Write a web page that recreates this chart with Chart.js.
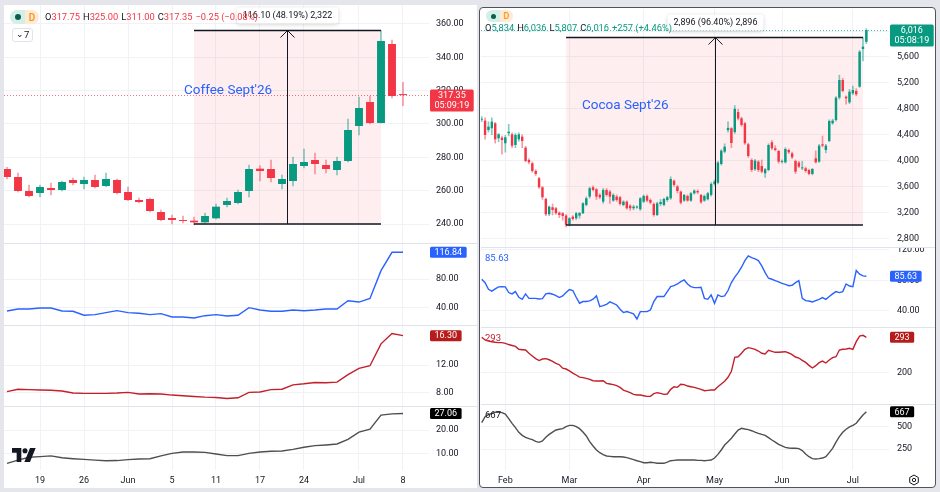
<!DOCTYPE html>
<html>
<head>
<meta charset="utf-8">
<script src="https://cdn.jsdelivr.net/npm/chart.js@4.4.1/dist/chart.umd.min.js"></script>
<style>
  body { margin: 0; width: 940px; height: 492px; background: #e4e6eb; position: relative; overflow: hidden; font-family: Roboto, "Noto Sans", sans-serif; color: #131722; }
  .panel { position: absolute; background: #fff; }
  canvas { position: absolute; }
  .sep { position: absolute; height: 1px; background: #e0e3eb; z-index: 3; }
  .ov { position: absolute; z-index: 5; white-space: nowrap; }
  .pill { display: flex; border-radius: 8px; overflow: hidden; }
  .pill .a { background: #d3efe8; display: flex; align-items: center; justify-content: center; }
  .pill .a i { display: block; width: 6px; height: 6px; border-radius: 50%; background: #0b5e4f; }
  .pill .b { background: #fdecd3; color: #f7931a; font-weight: 500; display: flex; align-items: center; justify-content: center; }
  .ohlc { font-size: 9.3px; line-height: 12px; }
  .ohlc span { margin-right: 3px; }
  .draw { font-size: 13.5px; color: #2962ff; }
</style>
</head>
<body>
<div class="panel" style="left:4px;top:5px;width:473px;height:483px"></div>
<div class="panel" style="left:479px;top:7px;width:455px;height:479px;border:1.5px solid #50535e;border-radius:4px"></div>
<div id="stage"></div>

<script>
// ---- Coffee Sept'26 (daily) ----
const coffeeStart = '2026-05-14';
const coffeeOpen  = [273.0, 268.2, 259.8, 258.6, 261.6, 260.4, 266.4, 264.0, 266.4, 262.8, 266.4, 259.2, 254.4, 255.0, 247.2, 243.6, 242.4, 242.0, 241.0, 243.4, 251.4, 252.6, 259.8, 273.2, 273.0, 264.0, 265.8, 274.8, 278.4, 275.4, 272.4, 277.8, 298.8, 313.2, 300.6, 348.0, 317.75];
const coffeeHigh  = [274.0, 270.6, 263.4, 263.4, 264.6, 265.8, 267.6, 268.2, 269.4, 270.6, 267.0, 262.2, 255.6, 255.6, 248.4, 245.4, 244.8, 244.2, 246.6, 252.0, 255.6, 260.4, 275.4, 275.0, 278.4, 269.4, 280.2, 285.0, 282.6, 278.4, 280.2, 303.0, 316.2, 316.8, 356.1, 350.4, 325.0];
const coffeeLow   = [267.0, 259.2, 256.2, 256.2, 257.4, 259.8, 263.4, 261.0, 261.6, 262.2, 258.0, 254.0, 252.6, 247.2, 242.0, 240.0, 240.6, 239.4, 240.6, 243.0, 250.2, 252.0, 256.2, 265.8, 265.2, 261.0, 262.8, 273.6, 270.0, 270.6, 269.4, 277.2, 293.4, 300.0, 300.6, 315.6, 311.0];
const coffeeClose = [268.2, 259.8, 256.8, 262.2, 260.4, 265.2, 264.6, 266.4, 262.2, 267.0, 258.6, 254.4, 253.2, 247.8, 242.4, 242.4, 241.8, 241.0, 244.8, 250.4, 253.8, 259.2, 273.0, 271.8, 267.6, 267.0, 276.0, 277.2, 276.0, 273.0, 277.8, 296.4, 309.6, 300.6, 349.8, 316.8, 317.35];
const coffeeBlue  = [35.9, 38.6, 38.6, 40.0, 40.0, 35.9, 35.5, 30.0, 30.8, 33.6, 36.3, 33.6, 32.7, 30.8, 32.2, 27.6, 27.6, 26.2, 29.4, 30.8, 29.0, 30.0, 40.5, 37.2, 35.5, 35.5, 37.2, 36.3, 37.2, 38.6, 38.6, 50.0, 48.2, 53.2, 91.5, 116.84, 116.84];
const coffeeRed   = [8.1, 8.45, 8.4, 8.35, 8.3, 8.2, 7.9, 7.85, 7.85, 7.85, 7.9, 8.0, 7.75, 7.8, 7.75, 7.6, 7.5, 7.4, 7.3, 7.25, 7.1, 7.2, 8.0, 8.05, 8.4, 8.45, 9.1, 9.25, 9.45, 9.4, 9.5, 10.6, 11.5, 11.9, 15.1, 16.6, 16.3];
const coffeeGrey  = [5.7, 7.1, 8.3, 8.6, 8.9, 8.1, 7.7, 7.4, 7.1, 6.8, 6.9, 7.3, 7.6, 7.7, 8.9, 10.0, 10.6, 10.6, 10.4, 9.7, 9.0, 9.0, 10.0, 10.6, 10.9, 11.0, 11.7, 12.6, 13.3, 13.6, 14.0, 16.0, 19.1, 20.4, 26.4, 26.9, 27.06];
const coffeePriceTicks = [240, 260, 280, 300, 320, 340, 360];
const coffeeBlueTicks = [40, 80];
const coffeeRedTicks = [8, 12];
const coffeeGreyTicks = [10, 20];
const coffeeDateTicks = ['2026-05-19', '2026-05-26', '2026-06-01', '2026-06-05', '2026-06-11', '2026-06-17', '2026-06-24', '2026-07-01', '2026-07-08'];
const coffeeDateLabels = ['19', '26', 'Jun', '5', '11', '17', '24', 'Jul', '8'];
const coffeeRangeDates = ['2026-06-09', '2026-07-06'];
const coffeeRangePrices = [240.00, 356.10];

// ---- Cocoa Sept'26 (daily) ----
const cocoaStart = '2026-01-22';
const cocoaOpen  = [4630, 4617, 4473, 4499, 4576, 4345, 4354, 4268, 4422, 4406, 4241, 4329, 4370, 4200, 4010, 3959, 3840, 3727, 3588, 3408, 3171, 3279, 3264, 3196, 3187, 3150, 3017, 3134, 3109, 3150, 3187, 3315, 3444, 3588, 3557, 3470, 3366, 3547, 3521, 3382, 3444, 3434, 3315, 3366, 3304, 3264, 3275, 3249, 3366, 3454, 3392, 3330, 3160, 3330, 3315, 3392, 3418, 3690, 3600, 3521, 3382, 3454, 3382, 3495, 3530, 3470, 3382, 3403, 3470, 3640, 3659, 3948, 4138, 4470, 4500, 4440, 4750, 4653, 4576, 4252, 4010, 3866, 3984, 3917, 3804, 3855, 4283, 4190, 4148, 3980, 3974, 4164, 4112, 3994, 3969, 3880, 3881, 3855, 3794, 4036, 3984, 4252, 4164, 4303, 4576, 4627, 4972, 5245, 4987, 4900, 5039, 5075, 5142, 5724, 5834];
const cocoaHigh  = [4680, 4660, 4600, 4660, 4590, 4420, 4380, 4390, 4560, 4430, 4420, 4430, 4400, 4220, 4030, 3980, 3860, 3740, 3600, 3420, 3300, 3330, 3280, 3210, 3200, 3170, 3120, 3150, 3200, 3200, 3350, 3440, 3590, 3610, 3570, 3490, 3570, 3570, 3540, 3490, 3470, 3450, 3380, 3380, 3320, 3310, 3300, 3430, 3470, 3470, 3410, 3350, 3360, 3400, 3420, 3450, 3750, 3700, 3620, 3530, 3480, 3470, 3510, 3550, 3550, 3480, 3470, 3510, 3660, 3700, 3990, 4170, 4260, 4600, 4510, 4850, 4790, 4670, 4590, 4270, 4030, 4020, 4000, 4010, 3880, 4260, 4310, 4230, 4160, 4010, 4200, 4180, 4130, 4010, 3990, 3990, 3900, 3870, 3880, 4150, 4250, 4380, 4250, 4630, 4640, 4990, 5320, 5270, 5000, 5100, 5150, 5110, 5700, 5900, 6036];
const cocoaLow   = [4600, 4330, 4440, 4400, 4270, 4290, 4100, 4130, 4380, 4200, 4200, 4300, 4200, 3980, 3950, 3820, 3770, 3570, 3400, 3150, 3150, 3160, 3170, 3120, 3080, 2975, 2990, 3080, 3090, 3110, 3180, 3300, 3420, 3530, 3400, 3410, 3340, 3450, 3340, 3370, 3370, 3310, 3300, 3250, 3230, 3240, 3260, 3230, 3350, 3360, 3330, 3140, 3150, 3300, 3300, 3370, 3400, 3600, 3500, 3330, 3370, 3370, 3370, 3480, 3490, 3340, 3370, 3390, 3450, 3620, 3640, 3930, 4120, 4440, 4200, 4420, 4630, 4530, 4250, 4050, 3830, 3850, 3830, 3810, 3740, 3840, 4170, 4150, 3960, 3960, 3960, 4110, 4030, 3800, 3890, 3860, 3820, 3780, 3780, 3960, 3970, 4210, 4120, 4290, 4560, 4610, 4950, 5060, 4870, 4880, 5020, 5000, 5130, 5540, 5807];
const cocoaClose = [4645, 4396, 4524, 4601, 4329, 4406, 4318, 4360, 4447, 4230, 4396, 4406, 4303, 3994, 3974, 3840, 3794, 3588, 3434, 3171, 3289, 3238, 3187, 3160, 3145, 3006, 3109, 3098, 3187, 3190, 3341, 3418, 3573, 3547, 3444, 3434, 3547, 3470, 3444, 3470, 3392, 3330, 3366, 3264, 3264, 3289, 3285, 3418, 3454, 3382, 3351, 3160, 3341, 3360, 3408, 3434, 3716, 3624, 3530, 3350, 3470, 3382, 3495, 3537, 3510, 3357, 3454, 3495, 3640, 3675, 3969, 4153, 4215, 4505, 4272, 4800, 4650, 4550, 4267, 4071, 3855, 4000, 3855, 3829, 3866, 4241, 4190, 4164, 3984, 3995, 4179, 4128, 4051, 3829, 3907, 3895, 3840, 3794, 3871, 3974, 4231, 4231, 4231, 4612, 4617, 4972, 5245, 5075, 4962, 5064, 5090, 5024, 5682, 5760, 6016];
const cocoaBlue  = [81.5, 77, 68.4, 66, 69, 71.6, 72, 71.6, 64.2, 62.4, 65.4, 58, 55.3, 62.4, 56.6, 56.6, 56.6, 55.7, 56.2, 62.4, 63.3, 62, 60.2, 57.6, 59.8, 64.2, 68.1, 66.8, 58, 50.2, 52.4, 52.4, 53.3, 55.5, 59.8, 45.7, 47, 48.8, 51.9, 50.1, 47.9, 42.3, 37.9, 39.2, 37.9, 36.2, 29.5, 39.2, 39.2, 39.2, 41.3, 52.4, 58.9, 58.9, 58.9, 65.4, 72, 73.2, 75.4, 78.5, 80.7, 75.4, 72, 70.6, 70.6, 71, 56.6, 55.3, 61, 50.1, 61, 58.9, 59.8, 66.8, 77.3, 84.3, 90.4, 97.4, 106.1, 112.2, 110, 108.3, 106.1, 99.1, 90.4, 82.9, 81.6, 79.8, 78.1, 76.3, 75, 73.2, 73.7, 77.2, 79.8, 56.6, 53.6, 53.1, 51.8, 53.6, 55.3, 57.5, 55.3, 58.9, 62.4, 65.4, 64.1, 65.4, 75.4, 72.7, 72, 93, 88.2, 86, 85.63];
const cocoaRed   = [293, 286, 283, 281.5, 280, 279, 279, 277, 274, 271.5, 269, 261.5, 260.5, 259.6, 251, 244, 237, 232, 236, 237, 234, 230, 224.7, 221, 212, 209.7, 205, 199, 194, 188.5, 187, 185.3, 182.7, 179, 178.2, 178.2, 179, 172, 170.3, 168.6, 166, 161.6, 154.5, 151, 147.5, 143, 141.4, 141.4, 139.6, 137.8, 137.8, 144.9, 147.5, 145.7, 143, 144, 156.3, 163.2, 161.6, 169.5, 168.6, 165, 163.2, 161.6, 159, 156.3, 152.7, 153.6, 154.5, 154.5, 163.2, 170.3, 177.4, 187.9, 203.6, 240.5, 242, 251, 261.5, 265.8, 264.1, 261.5, 257, 251, 249.1, 258.7, 256.2, 253.6, 253.6, 254.4, 255.2, 251.8, 247.4, 241.3, 238.6, 232.4, 227.2, 219.3, 212.4, 218.5, 226.3, 230.7, 225.5, 233.4, 239.5, 242, 259.6, 261.5, 262.3, 264.1, 261.5, 281.5, 296.4, 298.2, 293];
const cocoaGrey  = [545, 612, 635, 650, 661, 661, 657, 642, 590, 538, 489, 437, 403, 381, 366, 355, 336, 325, 340, 381, 414, 440, 463, 471, 478, 500, 515, 515, 500, 478, 440, 396, 332, 284, 239, 209, 187, 172, 168, 164, 164, 164, 160, 153, 142, 131, 119, 108, 97, 97, 101, 97, 90, 90, 90, 104, 119, 123, 127, 127, 127, 127, 127, 127, 123, 123, 119, 123, 127, 149, 190, 239, 295, 332, 370, 418, 463, 482, 474, 467, 455, 440, 426, 414, 403, 377, 351, 328, 302, 284, 269, 262, 258, 258, 254, 232, 194, 164, 142, 138, 142, 149, 164, 209, 258, 328, 388, 437, 471, 497, 515, 538, 586, 631, 667];
const cocoaPriceTicks = [2800, 3200, 3600, 4000, 4400, 4800, 5200, 5600, 6000];
const cocoaBlueTicks = [40, 80, 120];
const cocoaRedTicks = [200];
const cocoaGreyTicks = [250, 500];
const cocoaDateTicks = ['2026-02-02', '2026-03-02', '2026-04-01', '2026-05-01', '2026-06-01', '2026-07-01'];
const cocoaDateLabels = ['Feb', 'Mar', 'Apr', 'May', 'Jun', 'Jul'];
const cocoaRangeDates = ['2026-02-27', '2026-07-07'];
const cocoaRangePrices = [3004, 5900];

const holidays = ['2026-02-16', '2026-04-03', '2026-05-25', '2026-06-19', '2026-07-03'];

const UP = '#089981', DOWN = '#f23645';
const UP_WICK = 'rgba(8,153,129,0.5)', DOWN_WICK = 'rgba(242,54,69,0.5)';
const GRID = '#f1f2f5', TEXT = '#131722';

Chart.defaults.font.family = 'Roboto, "Noto Sans", sans-serif';

function tradingDays(start, n) {
  const out = [];
  const d = new Date(start + 'T12:00:00Z');
  while (out.length < n) {
    const s = d.toISOString().slice(0, 10);
    const wd = d.getUTCDay();
    if (wd !== 0 && wd !== 6 && !holidays.includes(s)) out.push(s);
    d.setUTCDate(d.getUTCDate() + 1);
  }
  return out;
}

function roundRect(ctx, x, y, w, h, r) {
  ctx.beginPath();
  ctx.moveTo(x + r, y);
  ctx.arcTo(x + w, y, x + w, y + h, r);
  ctx.arcTo(x + w, y + h, x, y + h, r);
  ctx.arcTo(x, y + h, x, y, r);
  ctx.arcTo(x, y, x + w, y, r);
  ctx.closePath();
}

// drawings: measure range, price line, axis tags, pane legend text
const overlay = {
  id: 'overlay',
  beforeDatasetsDraw(chart, args, o) {
    const { ctx, chartArea: a, scales: { x, y } } = chart;
    ctx.save();
    if (o.range) {
      const x0 = x.getPixelForValue(o.range.from), x1 = x.getPixelForValue(o.range.to);
      const yl = y.getPixelForValue(o.range.low), yh = y.getPixelForValue(o.range.high);
      ctx.fillStyle = 'rgba(242,54,69,0.085)';
      ctx.fillRect(x0, yh, x1 - x0, yl - yh);
    }
    if (o.priceLine) {
      const py = Math.round(y.getPixelForValue(o.priceLine.value)) + 0.5;
      ctx.strokeStyle = o.priceLine.color;
      ctx.globalAlpha = 0.7;
      ctx.lineWidth = 1;
      ctx.setLineDash([1, 2]);
      ctx.beginPath();
      ctx.moveTo(a.left, py);
      ctx.lineTo(a.right, py);
      ctx.stroke();
    }
    ctx.restore();
  },
  afterDatasetsDraw(chart, args, o) {
    if (!o.range) return;
    const { ctx, scales: { x, y } } = chart;
    const x0 = x.getPixelForValue(o.range.from), x1 = x.getPixelForValue(o.range.to);
    const xm = Math.round(x.getPixelForValue((o.range.from + o.range.to) / 2)) + 0.5;
    const yl = y.getPixelForValue(o.range.low), yh = y.getPixelForValue(o.range.high);
    ctx.save();
    ctx.strokeStyle = TEXT;
    ctx.lineWidth = 1.5;
    ctx.beginPath();
    ctx.moveTo(x0, yh); ctx.lineTo(x1, yh);
    ctx.moveTo(x0, yl); ctx.lineTo(x1, yl);
    ctx.stroke();
    ctx.lineWidth = 1;
    ctx.beginPath();
    ctx.moveTo(xm, yl); ctx.lineTo(xm, yh);
    ctx.moveTo(xm - 7, yh + 7); ctx.lineTo(xm, yh); ctx.lineTo(xm + 7, yh + 7);
    ctx.stroke();
    // label box above the range
    ctx.font = '9px Roboto';
    const w = ctx.measureText(o.range.label).width + 12;
    const h = 16, bx = xm - w / 2, by = yh - 7 - h;
    ctx.shadowColor = 'rgba(0,0,0,0.18)';
    ctx.shadowBlur = 4;
    ctx.shadowOffsetY = 1;
    ctx.fillStyle = '#fff';
    roundRect(ctx, bx, by, w, h, 3);
    ctx.fill();
    ctx.shadowColor = 'transparent';
    ctx.fillStyle = TEXT;
    ctx.textAlign = 'center';
    ctx.textBaseline = 'middle';
    ctx.fillText(o.range.label, xm, by + h / 2 + 0.5);
    ctx.restore();
  },
  afterDraw(chart, args, o) {
    const { ctx, chartArea: a, scales: { y } } = chart;
    ctx.save();
    if (o.legend) {
      ctx.font = '9.5px Roboto';
      ctx.fillStyle = o.legend.color;
      ctx.textBaseline = 'middle';
      ctx.fillText(o.legend.text, a.left + 4, a.top + 12);
    }
    if (o.tag) {
      const t = o.tag;
      const py = y.getPixelForValue(t.value);
      ctx.font = '9px Roboto';
      const w = Math.max(...t.lines.map(s => ctx.measureText(s).width)) + 9;
      const h = t.lines.length > 1 ? 22 : 11;
      const bx = a.right + 1, by = py - 5.5;
      ctx.fillStyle = t.bg;
      roundRect(ctx, bx, by, w, h, 1.5);
      ctx.fill();
      ctx.fillStyle = '#fff';
      ctx.textAlign = 'center';
      ctx.textBaseline = 'middle';
      t.lines.forEach((s, k) => ctx.fillText(s, bx + w / 2, by + 6 + k * 10));
    }
    ctx.restore();
  }
};

function addCanvas(left, top, w, h) {
  const c = document.createElement('canvas');
  c.width = w; c.height = h;
  c.style.cssText = `left:${left}px;top:${top}px;width:${w}px;height:${h}px`;
  document.getElementById('stage').appendChild(c);
  return c;
}

function makePane(p) {
  const c = addCanvas(p.left, p.top, p.width, p.height);
  return new Chart(c, {
    type: p.type,
    data: { datasets: p.datasets },
    options: {
      responsive: false,
      animation: false,
      events: [],
      layout: { padding: 0 },
      plugins: { legend: { display: false }, tooltip: { enabled: false }, overlay: p.overlay || {} },
      scales: {
        x: {
          type: 'linear', min: p.xmin, max: p.xmax, offset: false,
          grid: { color: GRID, drawTicks: false, offset: false },
          border: { display: false },
          ticks: {
            display: !!p.showX, color: TEXT, font: { size: 9 }, padding: 5, maxRotation: 0, autoSkip: false,
            callback: v => { const k = p.xTicks.indexOf(v); return k >= 0 ? p.xLabels[k] : ''; }
          },
          afterBuildTicks: ax => { ax.ticks = p.xTicks.map(v => ({ value: v })); },
          afterFit: ax => { ax.height = p.showX ? 18 : 0; ax.paddingLeft = 0; ax.paddingRight = 0; }
        },
        y: {
          type: 'linear', position: 'right', min: p.ymin, max: p.ymax,
          grid: { color: GRID, drawTicks: false },
          border: { display: false },
          ticks: { color: TEXT, font: { size: 9 }, padding: p.tickPad, callback: p.fmt },
          afterBuildTicks: ax => { ax.ticks = p.yTicks.map(v => ({ value: v })); },
          afterFit: ax => { ax.width = p.axisW; ax.paddingTop = 0; ax.paddingBottom = 0; }
        }
      }
    },
    plugins: [overlay]
  });
}

function candleSets(open, high, low, close) {
  const up = close.map((c, i) => c >= open[i]);
  return [
    { type: 'bar', data: open.map((v, i) => ({ x: i, y: [v, close[i]] })), grouped: false, minBarLength: 1,
      backgroundColor: up.map(u => u ? UP : DOWN), borderWidth: 0, barPercentage: 0.9, categoryPercentage: 0.8 },
    { type: 'bar', data: low.map((v, i) => ({ x: i, y: [v, high[i]] })), grouped: false, barThickness: 1,
      backgroundColor: up.map(u => u ? UP_WICK : DOWN_WICK), borderWidth: 0 }
  ];
}

function lineSet(values, color) {
  return [{ type: 'line', data: values.map((v, i) => ({ x: i, y: v })), borderColor: color, borderWidth: 1.4, pointRadius: 0, tension: 0 }];
}

const fmt2 = v => v.toFixed(2);
const fmtInt = v => Math.round(v).toLocaleString('en-US');

// ---------- left: coffee ----------
const coffeeDates = tradingDays(coffeeStart, coffeeClose.length);
const cx = {
  left: 4, width: 473, axisW: 48, tickPad: 7, xmin: -0.273, xmax: 38.364,
  xTicks: coffeeDateTicks.map(d => coffeeDates.indexOf(d)), xLabels: coffeeDateLabels
};
const cLast = coffeeClose.length - 1;
makePane({ ...cx, type: 'bar', top: 5, height: 238, ymin: 228.6, ymax: 371.4, yTicks: coffeePriceTicks, fmt: fmt2,
  datasets: candleSets(coffeeOpen, coffeeHigh, coffeeLow, coffeeClose),
  overlay: {
    range: { from: coffeeDates.indexOf(coffeeRangeDates[0]), to: coffeeDates.indexOf(coffeeRangeDates[1]),
             low: coffeeRangePrices[0], high: coffeeRangePrices[1], label: '116.10 (48.19%) 2,322' },
    priceLine: { value: coffeeClose[cLast], color: DOWN },
    tag: { value: coffeeClose[cLast], bg: DOWN, lines: [coffeeClose[cLast].toFixed(2), '05:09:19'] }
  } });
makePane({ ...cx, type: 'line', top: 243, height: 82, ymin: 16.55, ymax: 129.66, yTicks: coffeeBlueTicks, fmt: fmt2,
  datasets: lineSet(coffeeBlue, '#2962ff'),
  overlay: { tag: { value: coffeeBlue[cLast], bg: '#2962ff', lines: [coffeeBlue[cLast].toFixed(2)] } } });
makePane({ ...cx, type: 'line', top: 325, height: 81, ymin: 6.0, ymax: 17.86, yTicks: coffeeRedTicks, fmt: fmt2,
  datasets: lineSet(coffeeRed, '#c2202b'),
  overlay: { tag: { value: coffeeRed[cLast], bg: '#b71c1c', lines: [coffeeRed[cLast].toFixed(2)] } } });
makePane({ ...cx, type: 'line', top: 406, height: 82, ymin: 2.86, ymax: 30.29, yTicks: coffeeGreyTicks, fmt: fmt2, showX: true,
  datasets: lineSet(coffeeGrey, '#4f4f4f'),
  overlay: { tag: { value: coffeeGrey[cLast], bg: '#000', lines: [coffeeGrey[cLast].toFixed(2)] } } });

// ---------- right: cocoa ----------
const cocoaDates = tradingDays(cocoaStart, cocoaClose.length);
const kx = {
  left: 481, width: 454, axisW: 46, tickPad: 8, xmin: -0.21, xmax: 120.71,
  xTicks: cocoaDateTicks.map(d => cocoaDates.indexOf(d)), xLabels: cocoaDateLabels
};
const kLast = cocoaClose.length - 1;
makePane({ ...kx, type: 'bar', top: 9, height: 238, ymin: 2665.6, ymax: 6341.3, yTicks: cocoaPriceTicks, fmt: fmtInt,
  datasets: candleSets(cocoaOpen, cocoaHigh, cocoaLow, cocoaClose),
  overlay: {
    range: { from: cocoaDates.indexOf(cocoaRangeDates[0]), to: cocoaDates.indexOf(cocoaRangeDates[1]),
             low: cocoaRangePrices[0], high: cocoaRangePrices[1], label: '2,896 (96.40%) 2,896' },
    priceLine: { value: cocoaClose[kLast], color: UP },
    tag: { value: cocoaClose[kLast], bg: UP, lines: [fmtInt(cocoaClose[kLast]), '05:08:19'] }
  } });
makePane({ ...kx, type: 'line', top: 247, height: 80, ymin: 19.0, ymax: 123.9, yTicks: cocoaBlueTicks, fmt: fmt2,
  datasets: lineSet(cocoaBlue, '#2962ff'),
  overlay: { legend: { text: cocoaBlue[kLast].toFixed(2), color: '#2962ff' },
             tag: { value: cocoaBlue[kLast], bg: '#2962ff', lines: [cocoaBlue[kLast].toFixed(2)] } } });
makePane({ ...kx, type: 'line', top: 327, height: 77, ymin: 117.8, ymax: 320.1, yTicks: cocoaRedTicks, fmt: fmtInt,
  datasets: lineSet(cocoaRed, '#c2202b'),
  overlay: { legend: { text: fmtInt(cocoaRed[kLast]), color: '#c2202b' },
             tag: { value: cocoaRed[kLast], bg: '#b71c1c', lines: [fmtInt(cocoaRed[kLast])] } } });
makePane({ ...kx, type: 'line', top: 404, height: 84, ymin: 15, ymax: 754.2, yTicks: cocoaGreyTicks, fmt: fmtInt, showX: true,
  datasets: lineSet(cocoaGrey, '#4f4f4f'),
  overlay: { legend: { text: fmtInt(cocoaGrey[kLast]), color: TEXT },
             tag: { value: cocoaGrey[kLast], bg: '#000', lines: [fmtInt(cocoaGrey[kLast])] } } });

// pane separators
[[4, 473, 243], [4, 473, 325], [4, 473, 406], [481, 454, 247], [481, 454, 327], [481, 454, 404]].forEach(([l, w, t]) => {
  const s = document.createElement('div');
  s.className = 'sep';
  s.style.cssText = `left:${l}px;width:${w}px;top:${t}px`;
  document.body.appendChild(s);
});
</script>

<!-- legends and drawings text -->
<div class="ov pill" style="left:10px;top:10px;height:14px">
  <div class="a" style="width:15px"><i></i></div><div class="b" style="width:14px;font-size:10px">D</div>
</div>
<div class="ov ohlc" style="left:45px;top:11px">
  <span>O<b style="font-weight:400;color:#f23645">317.75</b></span><span>H<b style="font-weight:400;color:#f23645">325.00</b></span><span>L<b style="font-weight:400;color:#f23645">311.00</b></span><span>C<b style="font-weight:400;color:#f23645">317.35</b></span><span style="color:#f23645">−0.25 (−0.08%)</span>
</div>
<div class="ov" style="left:12px;top:28px;width:19px;height:12px;border:1px solid #e0e3eb;border-radius:3px;background:#fff;font-size:9.5px;line-height:12px">
  <span style="position:absolute;left:3px;top:-1px;font-size:9px">&#8964;</span><span style="position:absolute;left:11px">7</span>
</div>
<div class="ov draw" style="left:184px;top:81px">Coffee Sept'26</div>

<div class="ov pill" style="left:486px;top:10px;height:12px">
  <div class="a" style="width:14px"><i style="width:5px;height:5px"></i></div><div class="b" style="width:13px;font-size:9px">D</div>
</div>
<div class="ov ohlc" style="left:485px;top:22px">
  <span>O<b style="font-weight:400;color:#089981">5,834</b></span><span>H<b style="font-weight:400;color:#089981">6,036</b></span><span>L<b style="font-weight:400;color:#089981">5,807</b></span><span>C<b style="font-weight:400;color:#089981">6,016</b></span><span style="color:#089981">+257 (+4.46%)</span>
</div>
<div class="ov draw" style="left:582px;top:96px">Cocoa Sept'26</div>

<svg class="ov" style="left:12px;top:448px" width="24" height="14" viewBox="0 0 36 21" preserveAspectRatio="none">
  <path d="M14 21H7V7H0V0h14z" fill="#131722"/><circle cx="19.5" cy="4" r="3.8" fill="#131722"/><path d="M27 0h8.5L27 21h-8.5z" fill="#131722"/>
</svg>
<svg class="ov" style="left:908px;top:474px" width="12" height="12" viewBox="0 0 12 12">
  <path d="M6 1l4.3 2.5v5L6 11 1.7 8.5v-5z" fill="none" stroke="#131722" stroke-width="1"/><circle cx="6" cy="6" r="1.7" fill="none" stroke="#131722" stroke-width="1"/>
</svg>
</body>
</html>
